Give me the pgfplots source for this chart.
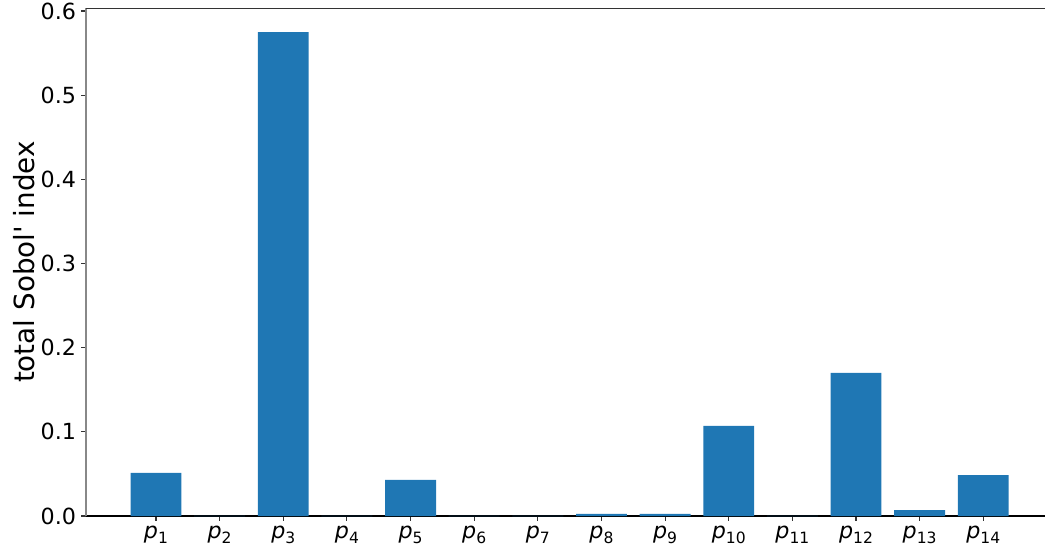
\documentclass[border=0pt]{standalone}
\usepackage{fontspec}
\setmainfont{DejaVu Sans}
\usepackage{pgfplots}
\pgfplotsset{compat=1.18}

\definecolor{barblue}{HTML}{1F77B4}
\definecolor{spinegray}{HTML}{888888}
\definecolor{spinedark}{HTML}{333333}

\newcommand{\pl}[1]{{\itshape p}\raisebox{-0.22em}{\fontsize{11.2}{12}\selectfont #1}}

\begin{document}
\begin{tikzpicture}
\path[use as bounding box] (-61.92pt,-23.04pt) rectangle (690.48pt,371.52pt);
\begin{axis}[
  scale only axis,
  width=690.48pt, height=365.76pt,
  xmin=-0.1, xmax=14.97,
  ymin=0, ymax=0.6036,
  axis lines*=left,
  axis line style={-, line width=0.8pt},
  x axis line style={black},
  y axis line style={spinegray},
  tick align=outside,
  major tick length=3.5pt,
  every tick/.style={line width=0.8pt, spinedark},
  xtick={1,...,14},
  xticklabels={\pl{1},\pl{2},\pl{3},\pl{4},\pl{5},\pl{6},\pl{7},\pl{8},\pl{9},\pl{10},\pl{11},\pl{12},\pl{13},\pl{14}},
  ytick={0,0.1,...,0.6},
  /pgf/number format/assume math mode=true,
  yticklabel style={/pgf/number format/fixed, /pgf/number format/fixed zerofill, /pgf/number format/precision=1, inner sep=0pt, xshift=-3.5pt},
  xticklabel style={inner sep=0pt, yshift=-3.5pt},
  ticklabel style={font=\fontsize{16}{19}\selectfont},
  ylabel={total Sobol\textquotesingle\ index},
  ylabel style={font=\fontsize{20}{24}\selectfont, at={(axis description cs:-0.0532,0.5)}, rotate=0, anchor=south, inner sep=0pt},
  ybar, bar width=0.8,
]
\addplot[fill=barblue, draw=none] coordinates {
  (1,0.0511) (2,0.0003) (3,0.575) (4,0.0003) (5,0.0428) (6,0.0002) (7,0.0002)
  (8,0.0024) (9,0.0024) (10,0.107) (11,0.0003) (12,0.170) (13,0.0071) (14,0.0487)
};
\draw[spinedark, line width=0.8pt] (rel axis cs:0,1) -- (rel axis cs:1,1);
\end{axis}
\end{tikzpicture}
\end{document}
